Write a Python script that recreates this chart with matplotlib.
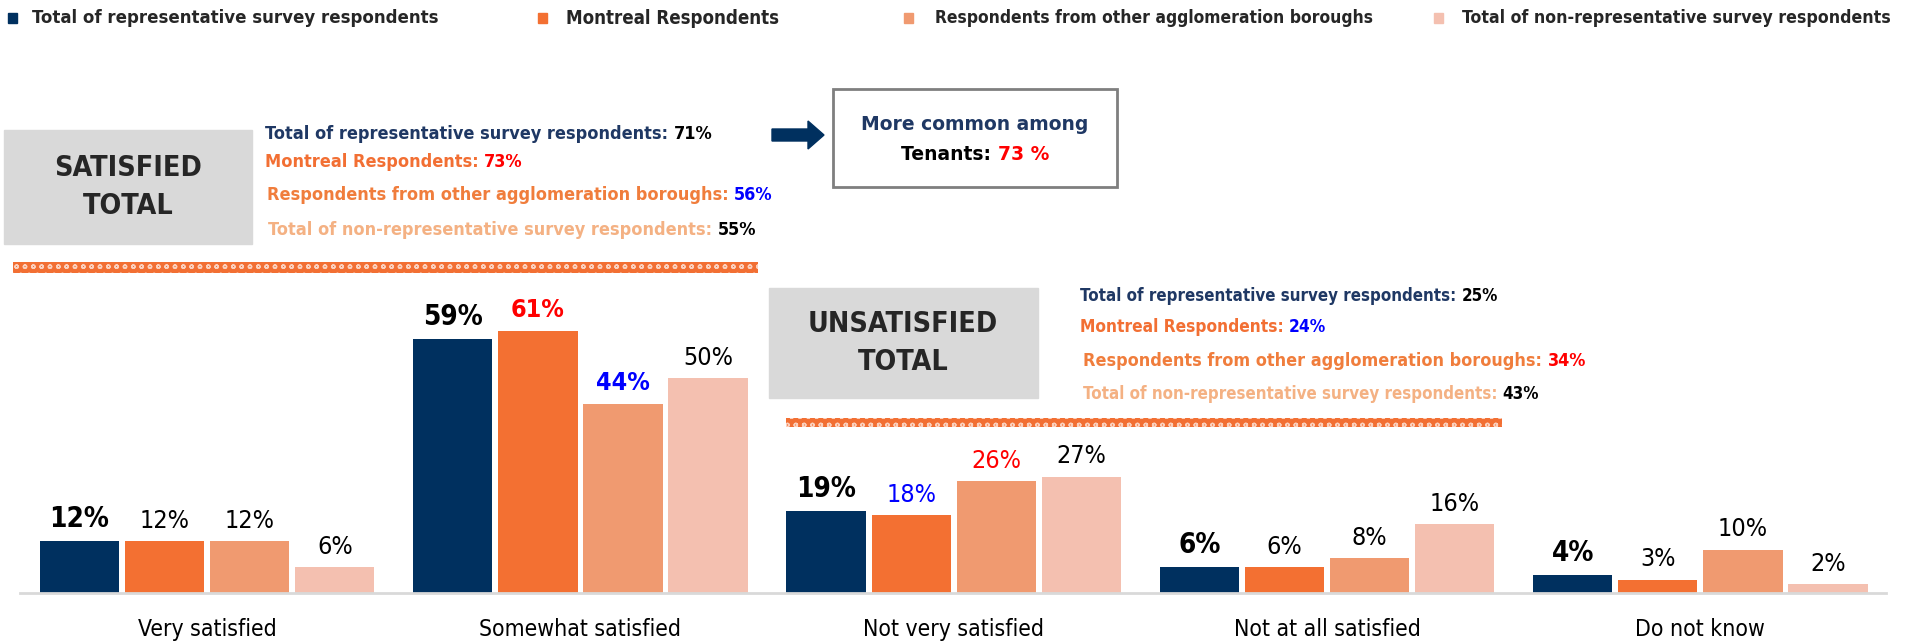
import matplotlib
matplotlib.use("Agg")
import matplotlib.pyplot as plt
from matplotlib import font_manager as fm
from matplotlib.patches import Rectangle, FancyArrow
import numpy as np

# ---------------- data ----------------
categories = ["Very satisfied", "Somewhat satisfied", "Not very satisfied",
              "Not at all satisfied", "Do not know"]
series_names = ["Total of representative survey respondents",
                "Montreal Respondents",
                "Respondents from other agglomeration boroughs",
                "Total of non-representative survey respondents"]
total_rep = [12, 59, 19, 6, 4]
montreal = [12, 61, 18, 6, 3]
other_boroughs = [12, 44, 26, 8, 10]
non_rep = [6, 50, 27, 16, 2]

satisfied_totals = [71, 73, 56, 55]
unsatisfied_totals = [25, 24, 34, 43]
tenants_pct = 73

# ---------------- fonts ----------------
W, H = 1912, 641
fl = fm.fontManager.ttflist
names = {f.name for f in fl}
STRETCH = "normal"
if "Liberation Sans Narrow" in names:
    FAMILY = "Liberation Sans Narrow"
elif any(f.name == "DejaVu Sans" and f.stretch == "condensed" for f in fl):
    FAMILY = "DejaVu Sans"
    STRETCH = "condensed"
elif "Roboto Condensed" in names:
    FAMILY = "Roboto Condensed"
elif "Lato" in names:
    FAMILY = "Lato"
else:
    FAMILY = "Liberation Sans"
plt.rcParams["font.family"] = [FAMILY, "DejaVu Sans"]
plt.rcParams["font.stretch"] = STRETCH

colors = ["#00305f", "#f37032", "#f09a70", "#f4c0b0"]
txt_colors = ["#1f3864", "#f26f33", "#f07d3c", "#f4b183"]
RED, BLUE, BLACK = "#ff0000", "#0000ff", "#000000"

label_styles = [
    [(BLACK, True), (BLACK, False), (BLACK, False), (BLACK, False)],
    [(BLACK, True), (RED, True), (BLUE, True), (BLACK, False)],
    [(BLACK, True), (BLUE, False), (RED, False), (BLACK, False)],
    [(BLACK, True), (BLACK, False), (BLACK, False), (BLACK, False)],
    [(BLACK, True), (BLACK, False), (BLACK, False), (BLACK, False)],
]
sat_val_colors = [BLACK, RED, BLUE, BLACK]
unsat_val_colors = [BLACK, BLUE, RED, BLACK]

fig = plt.figure(figsize=(W / 100, H / 100), dpi=100)
renderer = fig.canvas.get_renderer()


def fx(x):
    return x / W


def fy(y):
    return 1 - y / H


def chain(t1, t2):
    bb = t1.get_window_extent(renderer)
    t2.set_x(bb.x1 / W)


# ---------------- bars ----------------
ax = fig.add_axes([0, 1 - 592.6 / H, 1, 592.6 / H])
ax.set_xlim(-0.555, 4.567)
ax.set_ylim(0, 138)
ax.axis("off")

x = np.arange(len(categories))
step, width = 0.228, 0.2124
all_series = [total_rep, montreal, other_boroughs, non_rep]
for i, vals in enumerate(all_series):
    pos = x + (i - 1.5) * step
    ax.bar(pos, vals, width=width, color=colors[i], zorder=2)
    for j, (p, v) in enumerate(zip(pos, vals)):
        c, b = label_styles[j][i]
        ax.annotate(f"{v}%", xy=(p, v), xytext=(0, 6),
                    textcoords="offset points", ha="center", va="bottom",
                    fontsize=20 if i == 0 else 18, color=c,
                    fontweight="bold" if b else "normal")

ax.plot([16 / 1568 * 5.122 - 0.555, 1547 / 1568 * 5.122 - 0.555], [0, 0],
        color="#d9d9d9", lw=2, zorder=3, clip_on=False)

for xi, cat in zip(x, categories):
    ax.text(xi, -36.7 / 4.29, cat, ha="center", va="center", fontsize=16.5)

# ---------------- legend ----------------
leg_marker_x = [8, 538, 904, 1434]
leg_text_x = [32, 566, 935, 1462]
leg_sizes = [13.3, 13.4, 12.5, 12.7]
for i in range(4):
    fig.patches.append(Rectangle((fx(leg_marker_x[i]), fy(23)), 9 / W, 10 / H,
                                 transform=fig.transFigure, color=colors[i]))
    fig.text(fx(leg_text_x[i]), fy(18), series_names[i], fontsize=leg_sizes[i],
             fontweight="bold", va="center", ha="left", color="#262626")


def two_part(xp, yp, label, value, c1, c2, size):
    t1 = fig.text(fx(xp), fy(yp), label + ": ", fontsize=size,
                  fontweight="bold", color=c1, va="center", ha="left")
    t2 = fig.text(fx(xp), fy(yp), value, fontsize=size, fontweight="bold",
                  color=c2, va="center", ha="left")
    chain(t1, t2)


# ---------------- satisfied block ----------------
fig.patches.append(Rectangle((fx(4), fy(244)), 248 / W, 114 / H,
                             transform=fig.transFigure, color="#d9d9d9"))
fig.text(fx(128), fy(187), "SATISFIED\nTOTAL", fontsize=20.5,
         fontweight="bold", color="#262626", ha="center", va="center",
         linespacing=1.5)
sat_x = [265, 265, 267, 268]
sat_y = [134, 162, 195, 230]
sat_sizes = [13, 13, 13, 13]
for i in range(4):
    two_part(sat_x[i], sat_y[i], series_names[i], f"{satisfied_totals[i]}%",
             txt_colors[i], sat_val_colors[i], sat_sizes[i])

fig.patches.append(Rectangle((fx(13), fy(273)), 745 / W, 11 / H,
                             transform=fig.transFigure, facecolor="#f26f33",
                             edgecolor="#fbd0bd", hatch="oo", lw=0))

# arrow + box
fig.patches.append(FancyArrow(fx(772), fy(135), 36 / W, 0, width=12 / H,
                              head_width=28 / H, head_length=16 / W,
                              length_includes_head=False,
                              transform=fig.transFigure, color="#00305f"))
fig.patches.append(Rectangle((fx(833), fy(187)), 284 / W, 98 / H,
                             transform=fig.transFigure, facecolor="white",
                             edgecolor="#7f7f7f", lw=2, zorder=0.5))
fig.text(fx(975), fy(124), "More common among", fontsize=13.5,
         fontweight="bold", color="#1f3864", ha="center", va="center",
         family="DejaVu Sans", stretch="normal")
ta = fig.text(fx(886), fy(154), "Tenants: ", fontsize=13.5, fontweight="bold",
              color=BLACK, ha="left", va="center", family="DejaVu Sans",
              stretch="normal")
tb = fig.text(fx(886), fy(154), f"{tenants_pct} %", fontsize=13.5,
              fontweight="bold", color=RED, ha="left", va="center",
              family="DejaVu Sans", stretch="normal")
wa = ta.get_window_extent(renderer).width
wb = tb.get_window_extent(renderer).width
ta.set_x(fx(975) - (wa + wb) / 2 / W)
chain(ta, tb)

# ---------------- unsatisfied block ----------------
fig.patches.append(Rectangle((fx(769), fy(398)), 269 / W, 110 / H,
                             transform=fig.transFigure, color="#d9d9d9"))
fig.text(fx(903), fy(343), "UNSATISFIED\nTOTAL", fontsize=20.5,
         fontweight="bold", color="#262626", ha="center", va="center",
         linespacing=1.5)
uns_x = [1080, 1080, 1083, 1083]
uns_y = [296, 327, 361, 394]
uns_sizes = [12.2, 12.4, 12.9, 12.2]
for i in range(4):
    two_part(uns_x[i], uns_y[i], series_names[i], f"{unsatisfied_totals[i]}%",
             txt_colors[i], unsat_val_colors[i], uns_sizes[i])

fig.patches.append(Rectangle((fx(786), fy(427)), 716 / W, 9 / H,
                             transform=fig.transFigure, facecolor="#f26f33",
                             edgecolor="#fbd0bd", hatch="oo", lw=0))

fig.savefig("out.png", dpi=100, facecolor="white")
